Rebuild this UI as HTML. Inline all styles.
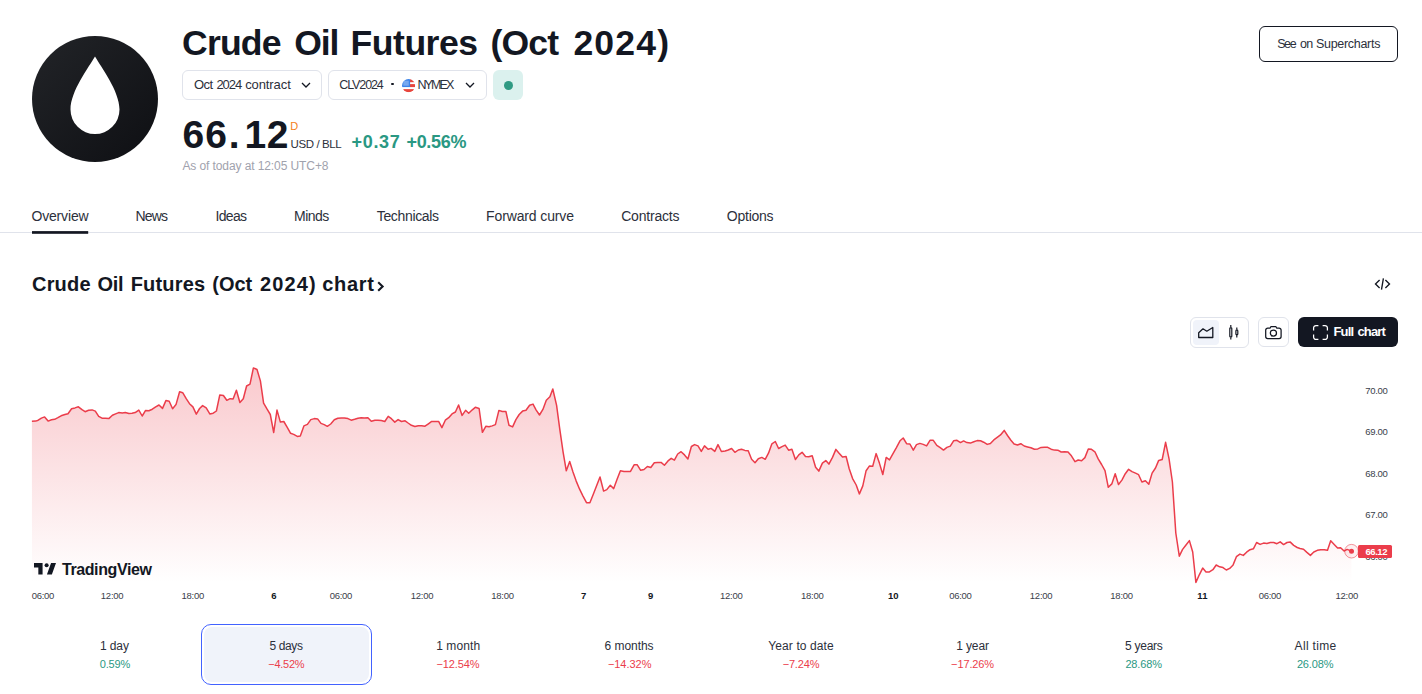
<!DOCTYPE html>
<html lang="en">
<head>
<meta charset="utf-8">
<title>Crude Oil Futures (Oct 2024)</title>
<style>
*{box-sizing:border-box;margin:0;padding:0}
html,body{width:1422px;height:694px;overflow:hidden;background:#fff}
body{position:relative;font-family:"Liberation Sans",sans-serif;color:#131722;-webkit-font-smoothing:antialiased}
.a{position:absolute;white-space:nowrap;line-height:1}
.logo{left:32px;top:36px;width:126px;height:126px}
.title{left:181px;top:24px;font-size:36px;font-weight:700;letter-spacing:0px;line-height:40px}
.btn{border:1px solid #e0e3eb;border-radius:6px;background:#fff}
.b1{left:182px;top:70px;width:140px;height:30px}
.b2{left:328px;top:70px;width:159px;height:30px}
.badge{left:493px;top:70px;width:30px;height:30px;border-radius:6px;background:#dbf1ee}
.badge i{position:absolute;left:11px;top:10.5px;width:9px;height:9px;border-radius:50%;background:#2f9a83}
.t13{font-size:13px}
.price{left:181px;top:115px;font-size:38px;font-weight:700;line-height:38px}
.green{color:#2a9883}
.red{color:#eb3d4b}
.tab{top:209px;font-size:14px;line-height:16px}
.hr{left:0;top:232px;width:1422px;height:1px;background:#e0e3eb}
.ul{left:32px;top:231px;width:57px;height:2px;background:#131722}
.h2{left:32px;top:273px;font-size:21px;font-weight:700;line-height:24px}
.rng{top:624px;width:171px;height:61px;text-align:center}
.rng b{display:block;font-weight:400;font-size:13px;line-height:16px;margin-top:14px}
.rng s{display:block;text-decoration:none;font-size:12px;line-height:16px;margin-top:2px}
.sel{border:1px solid #4a63c8;border-radius:8px;background:#f0f3fa}
.sel b{margin-top:13px}
svg{position:absolute;overflow:visible}
</style>
</head>
<body>

<!-- logo -->
<svg class="logo" viewBox="0 0 126 126" width="126" height="126">
  <defs><linearGradient id="lg" x1="0" y1="0" x2="1" y2="1"><stop offset="0" stop-color="#222428"/><stop offset="1" stop-color="#0e0f13"/></linearGradient></defs>
  <circle cx="63" cy="63" r="63" fill="url(#lg)"/>
  <path d="M63 20.5 C 69 31, 87.5 55, 87.5 73.5 A 24.5 24.5 0 0 1 38.5 73.5 C 38.5 55, 57 31, 63 20.5 Z" fill="#fff"/>
</svg>


<div class="a btn b1"></div>
<svg style="left:300px;top:81px" width="12" height="8" viewBox="0 0 12 8"><path d="M2 2l4 4 4-4" fill="none" stroke="#131722" stroke-width="1.3"/></svg>

<div class="a btn b2"></div>
<div class="a" style="left:391.4px;top:83px;width:2.2px;height:2.2px;border-radius:50%;background:#131722"></div>
<svg style="left:401.9px;top:78.7px" width="13.2" height="13.3" viewBox="0 0 13.2 13.3">
  <defs><clipPath id="fc"><circle cx="6.6" cy="6.65" r="6.6"/></clipPath></defs>
  <g clip-path="url(#fc)">
    <rect width="13.2" height="13.3" fill="#fff"/>
    <rect x="8" y="0" width="5.2" height="3.2" fill="#e8453c"/>
    <rect x="8" y="5.100" width="5.2" height="3" fill="#e8453c"/>
    <rect x="0" y="10.150" width="13.2" height="3.2" fill="#e8453c"/>
    <rect x="0" y="0" width="8.1" height="8.1" fill="#3d84e8"/>
    <rect x="1.300" y="1.700" width="5.500" height="5" fill="#8bb6f3" opacity=".75"/>
  </g>
</svg>
<svg style="left:464px;top:81px" width="12" height="8" viewBox="0 0 12 8"><path d="M2 2l4 4 4-4" fill="none" stroke="#131722" stroke-width="1.3"/></svg>

<div class="a badge"><i></i></div>


<div class="a btn" style="left:1259px;top:26px;width:139px;height:36px;border-color:#131722;border-radius:6px"></div>

<!-- tabs -->
<div class="a hr"></div>
<svg style="left:0;top:0" width="100" height="240"><rect x="32" y="231.100" width="56.200" height="2.700" fill="#131722"/></svg>

<svg style="left:376px;top:280px" width="10" height="13" viewBox="0 0 10 13"><path d="M2.200 2.300l4.400 4.200-4.400 4.200" fill="none" stroke="#131722" stroke-width="2.100"/></svg>

<!-- embed icon -->
<svg style="left:1373px;top:276px" width="18" height="16" viewBox="0 0 18 16"><path d="M6.600 4.100L2.500 8.050l4.100 4.050M12.400 4.100l4.100 3.950-4.100 4.050M10.400 2.300L8.500 13.600" fill="none" stroke="#131722" stroke-width="1.350"/></svg>

<!-- chart toolbar -->
<div class="a btn" style="left:1190px;top:317px;width:59px;height:31px"></div>
<div class="a" style="left:1193px;top:320px;width:26px;height:25px;border-radius:4px;background:#f0f3fa"></div>
<svg style="left:1197px;top:324px" width="18" height="16" viewBox="0 0 18 16"><path d="M1.700 13.500V8.800L6 4.800l3.800 2.400 6-3.700v10z" fill="none" stroke="#131722" stroke-width="1.3" stroke-linejoin="round"/></svg>
<svg style="left:1226px;top:323px" width="16" height="18" viewBox="0 0 16 18"><path d="M4.800 2.100v2.400M4.800 14.300v2.300M10.800 4.400v2.400M10.800 12v2.500" stroke="#131722" stroke-width="1.200" fill="none"/><rect x="3.800" y="4.800" width="2" height="9.100" rx="0.700" fill="none" stroke="#131722" stroke-width="1.200"/><rect x="9.900" y="7.200" width="1.900" height="4.400" rx="0.700" fill="none" stroke="#131722" stroke-width="1.200"/></svg>
<div class="a btn" style="left:1258px;top:317px;width:31px;height:30px"></div>
<svg style="left:1264px;top:325px" width="19" height="16" viewBox="0 0 19 16"><path d="M6 3.200l1-1.700h4.800l1 1.700h2.300a2 2 0 0 1 2 2v6.400a2 2 0 0 1-2 2H3.700a2 2 0 0 1-2-2V5.200a2 2 0 0 1 2-2z" fill="none" stroke="#131722" stroke-width="1.250"/><circle cx="9.400" cy="8.100" r="3.100" fill="none" stroke="#131722" stroke-width="1.250"/></svg>
<div class="a" style="left:1298px;top:317px;width:100px;height:30px;border-radius:6px;background:#131722"></div>
<svg style="left:1312.800px;top:325.100px" width="15" height="15" viewBox="0 0 15 15"><path d="M.600 5.400V3A2.400 2.400 0 0 1 3 .600h2.400M9.600 .600H12A2.400 2.400 0 0 1 14.400 3v2.400M14.400 9.600V12a2.400 2.400 0 0 1-2.400 2.400H9.600M5.400 14.400H3A2.400 2.400 0 0 1 .600 12V9.600" fill="none" stroke="#fff" stroke-width="1.250"/></svg>

<!-- chart -->
<svg style="left:0;top:0" width="1422" height="694" viewBox="0 0 1422 694">
  <defs><linearGradient id="ag" x1="0" y1="368" x2="0" y2="583" gradientUnits="userSpaceOnUse"><stop offset="0" stop-color="#eb3d4b" stop-opacity=".28"/><stop offset="1" stop-color="#eb3d4b" stop-opacity="0"/></linearGradient></defs>
  <polygon fill="url(#ag)" points="32,583 31.9,421.2 35.7,421.1 38.2,420.2 41.4,418.1 44.6,416.9 48.1,421.1 51.5,419.8 54.7,419.3 57.9,417.7 61.1,415.8 64.9,414.5 68.0,413.7 71.6,408.7 75.0,407.9 78.4,406.8 82.0,409.7 85.1,411.7 88.6,410.2 92.1,409.9 95.3,411.1 98.7,416.3 102.0,418.2 105.4,418.2 108.8,418.6 112.4,415.3 115.6,413.9 118.7,412.6 122.3,413.0 125.3,412.6 128.9,413.5 132.0,413.2 135.2,412.6 138.8,410.1 142.2,416.0 145.6,410.4 148.9,410.7 152.3,409.2 155.7,406.9 159.0,405.0 162.5,408.4 165.9,400.6 169.2,401.3 172.6,408.7 176.0,404.6 179.6,391.7 182.7,392.7 186.2,398.7 189.5,403.7 192.9,406.9 196.3,414.1 199.6,408.5 202.6,405.6 206.2,407.9 209.8,413.9 213.2,413.2 216.4,411.0 219.8,394.9 223.4,395.5 226.8,400.3 230.1,398.7 233.1,399.0 236.4,390.2 239.9,402.5 243.3,398.7 246.6,386.0 250.0,384.1 253.4,367.9 257.0,369.5 260.4,380.9 263.6,403.1 267.1,409.2 270.3,414.5 273.7,432.5 277.0,410.1 280.4,422.1 283.8,421.5 287.1,427.2 290.6,433.3 293.7,434.4 297.3,436.4 300.3,436.1 303.9,425.9 307.4,424.4 310.8,419.6 314.3,418.6 317.6,418.9 321.0,423.4 324.2,424.6 327.3,426.3 330.7,424.0 334.3,419.8 337.8,418.3 341.3,417.9 344.4,417.9 347.9,418.6 351.2,420.2 354.6,419.3 358.0,418.3 361.2,417.8 364.5,417.9 367.9,417.8 371.3,421.2 374.9,420.3 378.0,420.3 381.3,420.6 384.8,421.5 388.2,416.4 391.4,418.7 394.8,422.1 398.1,419.6 401.5,421.5 405.1,420.8 408.1,423.0 411.4,425.3 414.9,426.5 418.3,425.7 421.6,425.7 425.0,426.2 428.4,423.8 431.7,421.4 435.1,421.6 438.6,421.4 441.9,427.6 445.3,420.2 448.7,417.7 452.0,413.9 455.4,412.0 458.6,405.0 462.1,415.4 465.6,410.3 468.7,413.2 472.3,409.8 475.3,407.3 479.1,408.5 482.4,432.3 485.8,426.3 489.0,426.8 492.2,425.9 495.4,424.6 498.9,410.4 502.3,411.5 505.9,411.5 509.0,425.3 512.6,426.9 515.9,419.6 519.2,414.5 522.6,411.1 526.0,410.3 529.6,405.3 533.0,404.1 536.2,410.1 539.5,415.0 542.9,409.4 546.3,400.3 549.9,396.8 552.8,389.0 556.6,405.3 559.7,428.7 563.1,452.1 566.3,470.8 569.7,461.5 572.9,471.8 576.2,481.1 579.6,489.2 583.0,496.1 586.5,502.7 589.9,502.7 593.3,494.3 596.6,485.8 600.0,477.0 603.6,491.1 606.8,489.6 610.3,485.3 613.7,488.6 617.1,479.3 620.4,470.8 624.0,471.4 627.2,471.4 630.5,471.4 634.1,464.8 637.1,464.7 640.7,470.3 644.0,469.5 647.4,466.5 650.8,467.5 654.3,462.8 657.7,462.6 661.1,462.4 664.4,465.2 668.0,460.9 671.2,458.3 674.4,460.2 677.7,454.0 681.1,451.7 684.5,454.9 687.9,459.0 691.4,446.5 694.6,444.6 698.0,445.9 701.3,451.4 704.5,445.9 708.1,449.3 711.1,448.4 714.8,451.4 718.0,444.6 721.4,451.5 725.1,451.0 728.2,450.0 731.6,448.5 734.9,452.3 738.3,450.0 741.5,449.2 744.9,450.4 748.2,450.8 751.6,459.3 755.0,462.7 758.3,458.7 761.8,457.4 765.2,459.3 768.5,453.2 771.9,443.8 775.3,441.5 778.6,448.5 782.0,446.6 785.2,445.1 788.6,450.2 791.9,449.2 795.4,459.5 798.8,454.9 802.1,452.3 805.5,456.4 808.7,456.8 812.2,455.7 815.6,467.2 818.8,471.1 822.4,463.1 825.8,460.6 828.9,464.1 832.5,457.4 835.9,449.4 839.1,453.2 842.5,457.0 846.1,456.5 849.2,468.8 852.6,478.6 856.2,485.0 859.4,493.9 862.8,485.9 866.1,470.7 869.5,465.9 872.7,466.3 876.1,453.6 879.4,463.1 882.8,474.5 886.2,457.4 889.5,459.9 893.0,453.6 896.4,447.6 900.0,440.8 903.2,438.0 906.6,443.7 909.9,444.0 913.3,450.1 916.5,444.6 919.9,443.4 923.2,444.4 926.6,445.9 930.0,440.3 933.3,440.3 936.8,445.4 940.2,447.7 943.5,450.1 946.9,447.4 950.3,446.1 953.6,440.8 957.0,440.3 960.5,442.6 963.6,440.9 966.9,442.6 970.4,443.1 973.8,441.8 977.1,440.6 980.5,440.8 983.7,442.2 987.2,444.4 990.4,443.5 993.8,439.9 997.2,437.4 1000.5,434.9 1004.2,430.4 1007.5,435.5 1010.9,440.3 1014.1,444.1 1017.5,445.0 1020.8,443.7 1024.2,446.0 1027.6,446.9 1030.9,447.7 1034.4,449.2 1037.8,448.9 1041.1,447.4 1044.5,447.3 1047.7,447.3 1051.1,449.2 1054.4,450.1 1057.8,450.2 1061.2,452.0 1064.5,451.7 1068.0,452.0 1071.4,455.8 1075.0,461.7 1078.2,460.0 1081.6,460.8 1084.9,457.6 1088.3,449.0 1091.5,449.3 1094.9,451.8 1098.2,458.9 1101.6,464.5 1105.0,470.6 1108.3,487.3 1111.8,483.9 1115.2,473.7 1118.5,484.5 1121.9,480.1 1125.3,473.7 1128.6,469.3 1132.0,471.6 1135.5,473.1 1138.6,474.7 1141.9,482.0 1145.4,480.7 1148.8,484.3 1152.1,473.1 1155.5,468.0 1158.7,460.4 1162.2,459.5 1165.6,442.3 1169.1,459.2 1172.4,482.0 1175.8,533.0 1179.3,556.2 1182.6,549.4 1186.0,545.0 1189.4,540.6 1192.7,552.0 1195.9,582.4 1199.3,574.8 1202.7,568.1 1206.0,571.9 1209.4,571.9 1212.9,569.7 1216.2,565.0 1219.6,566.8 1223.0,567.6 1226.3,570.0 1229.7,568.4 1233.1,564.9 1236.4,556.7 1239.9,554.1 1243.3,555.4 1246.6,552.2 1250.0,549.7 1253.4,548.8 1256.6,542.5 1260.1,544.4 1263.6,543.1 1266.9,543.5 1270.3,542.5 1273.7,542.5 1276.9,543.7 1280.2,541.8 1283.6,544.6 1287.0,542.5 1290.3,542.1 1293.7,545.4 1297.2,547.5 1300.0,548.5 1303.5,549.2 1306.9,552.4 1310.4,555.4 1313.8,552.0 1317.3,550.3 1320.8,549.8 1324.2,549.8 1327.5,550.3 1330.7,540.8 1334.2,544.4 1337.6,548.1 1340.6,547.7 1344.1,551.0 1347.1,549.4 1351.4,551.1 1351.4,583"/>
  <polyline fill="none" stroke="#eb3d4b" stroke-width="1.5" stroke-linejoin="round" points="31.9,421.2 35.7,421.1 38.2,420.2 41.4,418.1 44.6,416.9 48.1,421.1 51.5,419.8 54.7,419.3 57.9,417.7 61.1,415.8 64.9,414.5 68.0,413.7 71.6,408.7 75.0,407.9 78.4,406.8 82.0,409.7 85.1,411.7 88.6,410.2 92.1,409.9 95.3,411.1 98.7,416.3 102.0,418.2 105.4,418.2 108.8,418.6 112.4,415.3 115.6,413.9 118.7,412.6 122.3,413.0 125.3,412.6 128.9,413.5 132.0,413.2 135.2,412.6 138.8,410.1 142.2,416.0 145.6,410.4 148.9,410.7 152.3,409.2 155.7,406.9 159.0,405.0 162.5,408.4 165.9,400.6 169.2,401.3 172.6,408.7 176.0,404.6 179.6,391.7 182.7,392.7 186.2,398.7 189.5,403.7 192.9,406.9 196.3,414.1 199.6,408.5 202.6,405.6 206.2,407.9 209.8,413.9 213.2,413.2 216.4,411.0 219.8,394.9 223.4,395.5 226.8,400.3 230.1,398.7 233.1,399.0 236.4,390.2 239.9,402.5 243.3,398.7 246.6,386.0 250.0,384.1 253.4,367.9 257.0,369.5 260.4,380.9 263.6,403.1 267.1,409.2 270.3,414.5 273.7,432.5 277.0,410.1 280.4,422.1 283.8,421.5 287.1,427.2 290.6,433.3 293.7,434.4 297.3,436.4 300.3,436.1 303.9,425.9 307.4,424.4 310.8,419.6 314.3,418.6 317.6,418.9 321.0,423.4 324.2,424.6 327.3,426.3 330.7,424.0 334.3,419.8 337.8,418.3 341.3,417.9 344.4,417.9 347.9,418.6 351.2,420.2 354.6,419.3 358.0,418.3 361.2,417.8 364.5,417.9 367.9,417.8 371.3,421.2 374.9,420.3 378.0,420.3 381.3,420.6 384.8,421.5 388.2,416.4 391.4,418.7 394.8,422.1 398.1,419.6 401.5,421.5 405.1,420.8 408.1,423.0 411.4,425.3 414.9,426.5 418.3,425.7 421.6,425.7 425.0,426.2 428.4,423.8 431.7,421.4 435.1,421.6 438.6,421.4 441.9,427.6 445.3,420.2 448.7,417.7 452.0,413.9 455.4,412.0 458.6,405.0 462.1,415.4 465.6,410.3 468.7,413.2 472.3,409.8 475.3,407.3 479.1,408.5 482.4,432.3 485.8,426.3 489.0,426.8 492.2,425.9 495.4,424.6 498.9,410.4 502.3,411.5 505.9,411.5 509.0,425.3 512.6,426.9 515.9,419.6 519.2,414.5 522.6,411.1 526.0,410.3 529.6,405.3 533.0,404.1 536.2,410.1 539.5,415.0 542.9,409.4 546.3,400.3 549.9,396.8 552.8,389.0 556.6,405.3 559.7,428.7 563.1,452.1 566.3,470.8 569.7,461.5 572.9,471.8 576.2,481.1 579.6,489.2 583.0,496.1 586.5,502.7 589.9,502.7 593.3,494.3 596.6,485.8 600.0,477.0 603.6,491.1 606.8,489.6 610.3,485.3 613.7,488.6 617.1,479.3 620.4,470.8 624.0,471.4 627.2,471.4 630.5,471.4 634.1,464.8 637.1,464.7 640.7,470.3 644.0,469.5 647.4,466.5 650.8,467.5 654.3,462.8 657.7,462.6 661.1,462.4 664.4,465.2 668.0,460.9 671.2,458.3 674.4,460.2 677.7,454.0 681.1,451.7 684.5,454.9 687.9,459.0 691.4,446.5 694.6,444.6 698.0,445.9 701.3,451.4 704.5,445.9 708.1,449.3 711.1,448.4 714.8,451.4 718.0,444.6 721.4,451.5 725.1,451.0 728.2,450.0 731.6,448.5 734.9,452.3 738.3,450.0 741.5,449.2 744.9,450.4 748.2,450.8 751.6,459.3 755.0,462.7 758.3,458.7 761.8,457.4 765.2,459.3 768.5,453.2 771.9,443.8 775.3,441.5 778.6,448.5 782.0,446.6 785.2,445.1 788.6,450.2 791.9,449.2 795.4,459.5 798.8,454.9 802.1,452.3 805.5,456.4 808.7,456.8 812.2,455.7 815.6,467.2 818.8,471.1 822.4,463.1 825.8,460.6 828.9,464.1 832.5,457.4 835.9,449.4 839.1,453.2 842.5,457.0 846.1,456.5 849.2,468.8 852.6,478.6 856.2,485.0 859.4,493.9 862.8,485.9 866.1,470.7 869.5,465.9 872.7,466.3 876.1,453.6 879.4,463.1 882.8,474.5 886.2,457.4 889.5,459.9 893.0,453.6 896.4,447.6 900.0,440.8 903.2,438.0 906.6,443.7 909.9,444.0 913.3,450.1 916.5,444.6 919.9,443.4 923.2,444.4 926.6,445.9 930.0,440.3 933.3,440.3 936.8,445.4 940.2,447.7 943.5,450.1 946.9,447.4 950.3,446.1 953.6,440.8 957.0,440.3 960.5,442.6 963.6,440.9 966.9,442.6 970.4,443.1 973.8,441.8 977.1,440.6 980.5,440.8 983.7,442.2 987.2,444.4 990.4,443.5 993.8,439.9 997.2,437.4 1000.5,434.9 1004.2,430.4 1007.5,435.5 1010.9,440.3 1014.1,444.1 1017.5,445.0 1020.8,443.7 1024.2,446.0 1027.6,446.9 1030.9,447.7 1034.4,449.2 1037.8,448.9 1041.1,447.4 1044.5,447.3 1047.7,447.3 1051.1,449.2 1054.4,450.1 1057.8,450.2 1061.2,452.0 1064.5,451.7 1068.0,452.0 1071.4,455.8 1075.0,461.7 1078.2,460.0 1081.6,460.8 1084.9,457.6 1088.3,449.0 1091.5,449.3 1094.9,451.8 1098.2,458.9 1101.6,464.5 1105.0,470.6 1108.3,487.3 1111.8,483.9 1115.2,473.7 1118.5,484.5 1121.9,480.1 1125.3,473.7 1128.6,469.3 1132.0,471.6 1135.5,473.1 1138.6,474.7 1141.9,482.0 1145.4,480.7 1148.8,484.3 1152.1,473.1 1155.5,468.0 1158.7,460.4 1162.2,459.5 1165.6,442.3 1169.1,459.2 1172.4,482.0 1175.8,533.0 1179.3,556.2 1182.6,549.4 1186.0,545.0 1189.4,540.6 1192.7,552.0 1195.9,582.4 1199.3,574.8 1202.7,568.1 1206.0,571.9 1209.4,571.9 1212.9,569.7 1216.2,565.0 1219.6,566.8 1223.0,567.6 1226.3,570.0 1229.7,568.4 1233.1,564.9 1236.4,556.7 1239.9,554.1 1243.3,555.4 1246.6,552.2 1250.0,549.7 1253.4,548.8 1256.6,542.5 1260.1,544.4 1263.6,543.1 1266.9,543.5 1270.3,542.5 1273.7,542.5 1276.9,543.7 1280.2,541.8 1283.6,544.6 1287.0,542.5 1290.3,542.1 1293.7,545.4 1297.2,547.5 1300.0,548.5 1303.5,549.2 1306.9,552.4 1310.4,555.4 1313.8,552.0 1317.3,550.3 1320.8,549.8 1324.2,549.8 1327.5,550.3 1330.7,540.8 1334.2,544.4 1337.6,548.1 1340.6,547.7 1344.1,551.0 1347.1,549.4 1351.4,551.1"/>
  <circle cx="1351.500" cy="551.200" r="6.800" fill="#eb3d4b" fill-opacity=".08" stroke="#eb3d4b" stroke-opacity=".55" stroke-width="1"/>
  <circle cx="1351.500" cy="551.200" r="2.500" fill="#eb3d4b"/>
</svg>

<!-- TradingView watermark -->
<svg style="left:33.600px;top:563.200px" width="22" height="11.600" viewBox="0 0 21.800 11.300" preserveAspectRatio="none"><path d="M0 0H8.500V11.300H4.300V4.450H0zM16.900 0H21.800L17.700 11.300H12.800z" fill="#131722"/><circle cx="12.500" cy="2.250" r="2" fill="#131722"/></svg>

<!-- ranges -->
<div class="a" style="left:201px;top:624px;width:171px;height:61px;border:1px solid #4262ff;border-radius:10px"></div>
<div class="a" style="left:204px;top:627px;width:165px;height:55px;border-radius:8px;background:#f0f3fa"></div>
<span class="a" style="left:182.09px;top:26.00px;font-size:35.6px;font-weight:700;letter-spacing:-0.864px;">Crude</span>
<span class="a" style="left:294.19px;top:26.00px;font-size:35.6px;font-weight:700;letter-spacing:-1.128px;">Oil</span>
<span class="a" style="left:350.57px;top:26.00px;font-size:35.6px;font-weight:700;letter-spacing:-0.496px;">Futures</span>
<span class="a" style="left:490.53px;top:26.00px;font-size:35.6px;font-weight:700;letter-spacing:-0.852px;">(Oct</span>
<span class="a" style="left:573.39px;top:26.00px;font-size:35.6px;font-weight:700;letter-spacing:1.162px;">2024)</span>
<span class="a" style="left:193.99px;top:77.90px;font-size:13px;letter-spacing:-0.529px;color:#2c303b;">Oct</span>
<span class="a" style="left:216.39px;top:77.90px;font-size:13px;letter-spacing:-0.996px;color:#2c303b;">2024</span>
<span class="a" style="left:245.19px;top:77.90px;font-size:13px;letter-spacing:-0.097px;color:#2c303b;">contract</span>
<span class="a" style="left:339.31px;top:78.90px;font-size:12.5px;letter-spacing:-1.117px;color:#2c303b;">CLV2024</span>
<span class="a" style="left:417.42px;top:78.90px;font-size:12.5px;letter-spacing:-1.910px;color:#2c303b;">NYMEX</span>
<span class="a" style="left:182.48px;top:114.90px;font-size:39px;font-weight:700;letter-spacing:1.210px;">66</span>
<span class="a" style="left:228.76px;top:114.90px;font-size:39px;font-weight:700;">.</span>
<span class="a" style="left:244.56px;top:114.90px;font-size:39px;font-weight:700;">1</span>
<span class="a" style="left:266.68px;top:114.90px;font-size:39px;font-weight:700;">2</span>
<span class="a" style="left:290.14px;top:120.80px;font-size:11px;color:#f4801a;">D</span>
<span class="a" style="left:290.58px;top:138.90px;font-size:11.5px;letter-spacing:-0.415px;color:#2c303b;">USD / BLL</span>
<span class="a" style="left:351.44px;top:132.60px;font-size:18px;font-weight:700;letter-spacing:0.712px;color:#2a9883;">+0.37</span>
<span class="a" style="left:406.44px;top:132.60px;font-size:18px;font-weight:700;letter-spacing:-0.306px;color:#2a9883;">+0.56%</span>
<span class="a" style="left:182.40px;top:159.80px;font-size:12px;letter-spacing:-0.093px;color:#9fa2ad;">As of today at 12:05 UTC+8</span>
<span class="a" style="left:1277.21px;top:37.80px;font-size:12.5px;letter-spacing:-1.422px;color:#2c303b;">See</span>
<span class="a" style="left:1300.01px;top:37.80px;font-size:12.5px;letter-spacing:-0.811px;color:#2c303b;">on</span>
<span class="a" style="left:1316.01px;top:37.80px;font-size:12.5px;letter-spacing:-0.301px;color:#2c303b;">Supercharts</span>
<span class="a" style="left:31.44px;top:209.10px;font-size:14px;letter-spacing:-0.166px;color:#2c303b;">Overview</span>
<span class="a" style="left:135.61px;top:209.10px;font-size:14px;letter-spacing:-0.859px;color:#2c303b;">News</span>
<span class="a" style="left:215.51px;top:209.10px;font-size:14px;letter-spacing:-0.679px;color:#2c303b;">Ideas</span>
<span class="a" style="left:294.01px;top:209.10px;font-size:14px;letter-spacing:-0.503px;color:#2c303b;">Minds</span>
<span class="a" style="left:376.78px;top:209.10px;font-size:14px;letter-spacing:-0.345px;color:#2c303b;">Technicals</span>
<span class="a" style="left:486.11px;top:209.10px;font-size:14px;letter-spacing:-0.134px;color:#2c303b;">Forward curve</span>
<span class="a" style="left:621.14px;top:209.10px;font-size:14px;letter-spacing:-0.190px;color:#2c303b;">Contracts</span>
<span class="a" style="left:726.84px;top:209.10px;font-size:14px;letter-spacing:-0.242px;color:#2c303b;">Options</span>
<span class="a" style="left:32.08px;top:274.40px;font-size:20px;font-weight:700;letter-spacing:0.160px;">Crude</span>
<span class="a" style="left:97.47px;top:274.40px;font-size:20px;font-weight:700;letter-spacing:-0.332px;">Oil</span>
<span class="a" style="left:130.65px;top:274.40px;font-size:20px;font-weight:700;letter-spacing:0.187px;">Futures</span>
<span class="a" style="left:212.26px;top:274.40px;font-size:20px;font-weight:700;letter-spacing:-0.022px;">(Oct</span>
<span class="a" style="left:259.98px;top:274.40px;font-size:20px;font-weight:700;letter-spacing:1.149px;">2024)</span>
<span class="a" style="left:322.27px;top:274.40px;font-size:20px;font-weight:700;letter-spacing:0.679px;">chart</span>
<span class="a" style="left:1333.49px;top:324.70px;font-size:13px;font-weight:700;letter-spacing:-0.842px;color:#fff;">Full</span>
<span class="a" style="left:1357.49px;top:324.70px;font-size:13px;font-weight:700;letter-spacing:-0.855px;color:#fff;">chart</span>
<span class="a" style="left:99.95px;top:640.20px;font-size:12px;letter-spacing:-0.101px;color:#2c303b;">1 day</span>
<span class="a" style="left:99.66px;top:659.00px;font-size:11px;letter-spacing:-0.130px;color:#2a9883;">0.59%</span>
<span class="a" style="left:269.52px;top:640.20px;font-size:12px;letter-spacing:-0.381px;color:#2c303b;">5 days</span>
<span class="a" style="left:268.28px;top:659.00px;font-size:11px;letter-spacing:-0.254px;color:#eb3d4b;">−4.52%</span>
<span class="a" style="left:436.15px;top:640.20px;font-size:12px;letter-spacing:0.111px;color:#2c303b;">1 month</span>
<span class="a" style="left:436.38px;top:659.00px;font-size:11px;letter-spacing:-0.115px;color:#eb3d4b;">−12.54%</span>
<span class="a" style="left:604.54px;top:640.20px;font-size:12px;letter-spacing:-0.046px;color:#2c303b;">6 months</span>
<span class="a" style="left:607.88px;top:659.00px;font-size:11px;letter-spacing:-0.031px;color:#eb3d4b;">−14.32%</span>
<span class="a" style="left:768.31px;top:640.20px;font-size:12px;letter-spacing:0.100px;color:#2c303b;">Year to date</span>
<span class="a" style="left:782.68px;top:659.00px;font-size:11px;letter-spacing:-0.174px;color:#eb3d4b;">−7.24%</span>
<span class="a" style="left:956.15px;top:640.20px;font-size:12px;letter-spacing:-0.109px;color:#2c303b;">1 year</span>
<span class="a" style="left:951.08px;top:659.00px;font-size:11px;letter-spacing:-0.115px;color:#eb3d4b;">−17.26%</span>
<span class="a" style="left:1125.03px;top:640.20px;font-size:12px;letter-spacing:-0.267px;color:#2c303b;">5 years</span>
<span class="a" style="left:1125.38px;top:659.00px;font-size:11px;letter-spacing:-0.133px;color:#2a9883;">28.68%</span>
<span class="a" style="left:1294.60px;top:640.20px;font-size:12px;letter-spacing:0.335px;color:#2c303b;">All time</span>
<span class="a" style="left:1296.88px;top:659.00px;font-size:11px;letter-spacing:-0.133px;color:#2a9883;">26.08%</span>
<span class="a" style="left:61.90px;top:561.70px;font-size:16px;font-weight:700;letter-spacing:-0.391px;">TradingView</span>
<span class="a" style="left:1365.35px;top:385.80px;font-size:9.5px;letter-spacing:-0.348px;color:#3a3e4a;">70.00</span>
<span class="a" style="left:1365.35px;top:427.30px;font-size:9.5px;letter-spacing:-0.348px;color:#3a3e4a;">69.00</span>
<span class="a" style="left:1365.35px;top:468.80px;font-size:9.5px;letter-spacing:-0.348px;color:#3a3e4a;">68.00</span>
<span class="a" style="left:1365.35px;top:510.30px;font-size:9.5px;letter-spacing:-0.348px;color:#3a3e4a;">67.00</span>
<span class="a" style="left:1365.35px;top:551.80px;font-size:9.5px;letter-spacing:-0.348px;color:#3a3e4a;">66.00</span>
<div class="a" style="left:1358px;top:545px;width:34px;height:12.600px;border-radius:1.500px;background:#eb3d4b"></div>
<span class="a" style="left:1365.40px;top:547.00px;font-size:9.5px;font-weight:700;letter-spacing:-0.410px;color:#fff;">66.12</span>
<span class="a" style="left:31.70px;top:590.70px;font-size:9.5px;letter-spacing:-0.310px;color:#3a3e4a;">06:00</span>
<span class="a" style="left:100.81px;top:590.70px;font-size:9.5px;letter-spacing:-0.236px;color:#3a3e4a;">12:00</span>
<span class="a" style="left:181.51px;top:590.70px;font-size:9.5px;letter-spacing:-0.236px;color:#3a3e4a;">18:00</span>
<span class="a" style="left:271.30px;top:590.70px;font-size:9.5px;font-weight:700;">6</span>
<span class="a" style="left:329.70px;top:590.70px;font-size:9.5px;letter-spacing:-0.310px;color:#3a3e4a;">06:00</span>
<span class="a" style="left:410.71px;top:590.70px;font-size:9.5px;letter-spacing:-0.236px;color:#3a3e4a;">12:00</span>
<span class="a" style="left:491.21px;top:590.70px;font-size:9.5px;letter-spacing:-0.236px;color:#3a3e4a;">18:00</span>
<span class="a" style="left:580.90px;top:590.70px;font-size:9.5px;font-weight:700;">7</span>
<span class="a" style="left:648.10px;top:590.70px;font-size:9.5px;font-weight:700;">9</span>
<span class="a" style="left:719.91px;top:590.70px;font-size:9.5px;letter-spacing:-0.236px;color:#3a3e4a;">12:00</span>
<span class="a" style="left:800.91px;top:590.70px;font-size:9.5px;letter-spacing:-0.236px;color:#3a3e4a;">18:00</span>
<span class="a" style="left:888.11px;top:590.70px;font-size:9.5px;font-weight:700;letter-spacing:-0.188px;">10</span>
<span class="a" style="left:949.20px;top:590.70px;font-size:9.5px;letter-spacing:-0.310px;color:#3a3e4a;">06:00</span>
<span class="a" style="left:1029.81px;top:590.70px;font-size:9.5px;letter-spacing:-0.236px;color:#3a3e4a;">12:00</span>
<span class="a" style="left:1110.31px;top:590.70px;font-size:9.5px;letter-spacing:-0.236px;color:#3a3e4a;">18:00</span>
<span class="a" style="left:1197.31px;top:590.70px;font-size:9.5px;font-weight:700;letter-spacing:0.188px;">11</span>
<span class="a" style="left:1258.80px;top:590.70px;font-size:9.5px;letter-spacing:-0.310px;color:#3a3e4a;">06:00</span>
<span class="a" style="left:1335.51px;top:590.70px;font-size:9.5px;letter-spacing:-0.236px;color:#3a3e4a;">12:00</span>

</body>
</html>
